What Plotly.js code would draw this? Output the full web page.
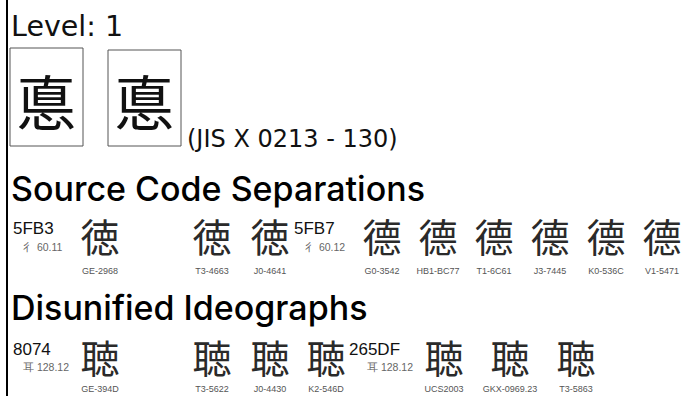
<!DOCTYPE html>
<html><head><meta charset="utf-8">
<script src="https://cdn.plot.ly/plotly-3.0.1.min.js"></script>
<style>html,body{margin:0;padding:0;background:#fff}</style>
</head><body><div id="chart" style="width:683px;height:396px"></div>
<script>
// ---- data ----
const levelText = 'Level: 1';
const topGlyph = '悳';
const jisRef = '(JIS X 0213 - 130)';
const heading1 = 'Source Code Separations';
const heading2 = 'Disunified Ideographs';

const sep1Code = '5FB3', sep1Rad = '彳 60.11';
const sep1Glyph = '徳';
const sep1Sources = ['GE-2968', 'T3-4663', 'J0-4641'];
const sep2Code = '5FB7', sep2Rad = '彳 60.12';
const sep2Glyph = '德';
const sep2Sources = ['G0-3542', 'HB1-BC77', 'T1-6C61', 'J3-7445', 'K0-536C', 'V1-5471'];

const dis1Code = '8074', dis1Rad = '耳 128.12';
const dis1Glyph = '聴';
const dis1Sources = ['GE-394D', 'T3-5622', 'J0-4430', 'K2-546D'];
const dis2Code = '265DF', dis2Rad = '耳 128.12';
const dis2Glyph = '聴';
const dis2Sources = ['UCS2003', 'GKX-0969.23', 'T3-5863'];

// ---- layout positions (pixels) ----
const row1X = [100, 212, 270, 382, 438, 494, 550, 606, 662];
const row2X = [100, 212, 270, 326, 444, 510, 576];
const row1Y = 242, row1LabelY = 272;
const row2Y = 363, row2LabelY = 390;

const fontFor = s => {
  if (s.startsWith('J')) return 'Noto Sans CJK JP';
  if (s.startsWith('K')) return 'Noto Sans CJK KR';
  if (s.startsWith('T') || s.startsWith('HB')) return 'Noto Sans CJK TC';
  return 'Noto Sans CJK SC';
};

const row1Src = sep1Sources.concat(sep2Sources);
const row1Glyphs = sep1Sources.map(() => sep1Glyph).concat(sep2Sources.map(() => sep2Glyph));
const row2Src = dis1Sources.concat(dis2Sources);
const row2Glyphs = dis1Sources.map(() => dis1Glyph).concat(dis2Sources.map(() => dis2Glyph));

const glyphTrace = (xs, y, glyphs, srcs) => ({
  type: 'scatter', mode: 'text', x: xs, y: xs.map(() => y), text: glyphs,
  textposition: 'middle center', hoverinfo: 'skip', showlegend: false,
  textfont: {size: 39, color: '#2a2a2a', family: srcs.map(fontFor)}
});
const labelTrace = (xs, y, srcs) => ({
  type: 'scatter', mode: 'text', x: xs, y: xs.map(() => y), text: srcs,
  textposition: 'middle center', hoverinfo: 'skip', showlegend: false,
  textfont: {size: 9, color: '#555', family: 'Liberation Sans Narrow, Liberation Sans, Arial'}
});

const data = [
  glyphTrace(row1X, row1Y, row1Glyphs, row1Src),
  labelTrace(row1X, row1LabelY, row1Src),
  glyphTrace(row2X, row2Y, row2Glyphs, row2Src),
  labelTrace(row2X, row2LabelY, row2Src)
];

const plainFont = s => ({size: s, color: '#111', family: 'DejaVu Sans, Lato, sans-serif'});
const ann = (text, x, y, font, opts) => Object.assign({
  text, x, y, xref: 'x', yref: 'y', showarrow: false, xanchor: 'left', yanchor: 'middle', font
}, opts || {});

const headFont = s => ({size: s, color: '#000', family: 'Inter, Noto Sans, sans-serif', weight: 500});
const codeFont = {size: 17, color: '#111', family: 'Liberation Sans, Arial'};
const radFont = {size: 10.5, color: '#666', family: 'Liberation Sans Narrow, Liberation Sans, Arial'};
const bigGlyphFont = {size: 60, color: '#111', family: 'Noto Sans CJK JP'};

const annotations = [
  ann(levelText, 9, 26, plainFont(28.5)),
  ann(topGlyph, 46, 99, bigGlyphFont, {xanchor: 'center'}),
  ann(topGlyph, 144, 99, bigGlyphFont, {xanchor: 'center'}),
  ann(jisRef, 185, 139, plainFont(24)),
  ann(heading1, 9, 188, headFont(34)),
  ann(heading2, 9, 307, headFont(34)),
  ann(sep1Code, 11, 228, codeFont),
  ann(sep1Rad, 21, 247, radFont),
  ann(sep2Code, 292, 228, codeFont),
  ann(sep2Rad, 303, 247, radFont),
  ann(dis1Code, 11, 349, codeFont),
  ann(dis1Rad, 21, 367, radFont),
  ann(dis2Code, 347, 349, codeFont),
  ann(dis2Rad, 365, 367, radFont)
];

const shapes = [
  {type: 'line', xref: 'x', yref: 'y', x0: 7, x1: 7, y0: 0, y1: 396, line: {color: '#000', width: 2}},
  {type: 'rect', xref: 'x', yref: 'y', x0: 10, x1: 83, y0: 48, y1: 146, line: {color: '#555', width: 1}},
  {type: 'rect', xref: 'x', yref: 'y', x0: 108, x1: 181, y0: 50, y1: 146, line: {color: '#555', width: 1}}
];

const layout = {
  width: 683, height: 396, margin: {l: 0, r: 0, t: 0, b: 0, pad: 0},
  paper_bgcolor: '#fff', plot_bgcolor: '#fff',
  xaxis: {range: [0, 683], visible: false, fixedrange: true},
  yaxis: {range: [396, 0], visible: false, fixedrange: true},
  annotations, shapes, showlegend: false
};
Plotly.newPlot('chart', data, layout, {staticPlot: true, displayModeBar: false});
</script></body></html>
